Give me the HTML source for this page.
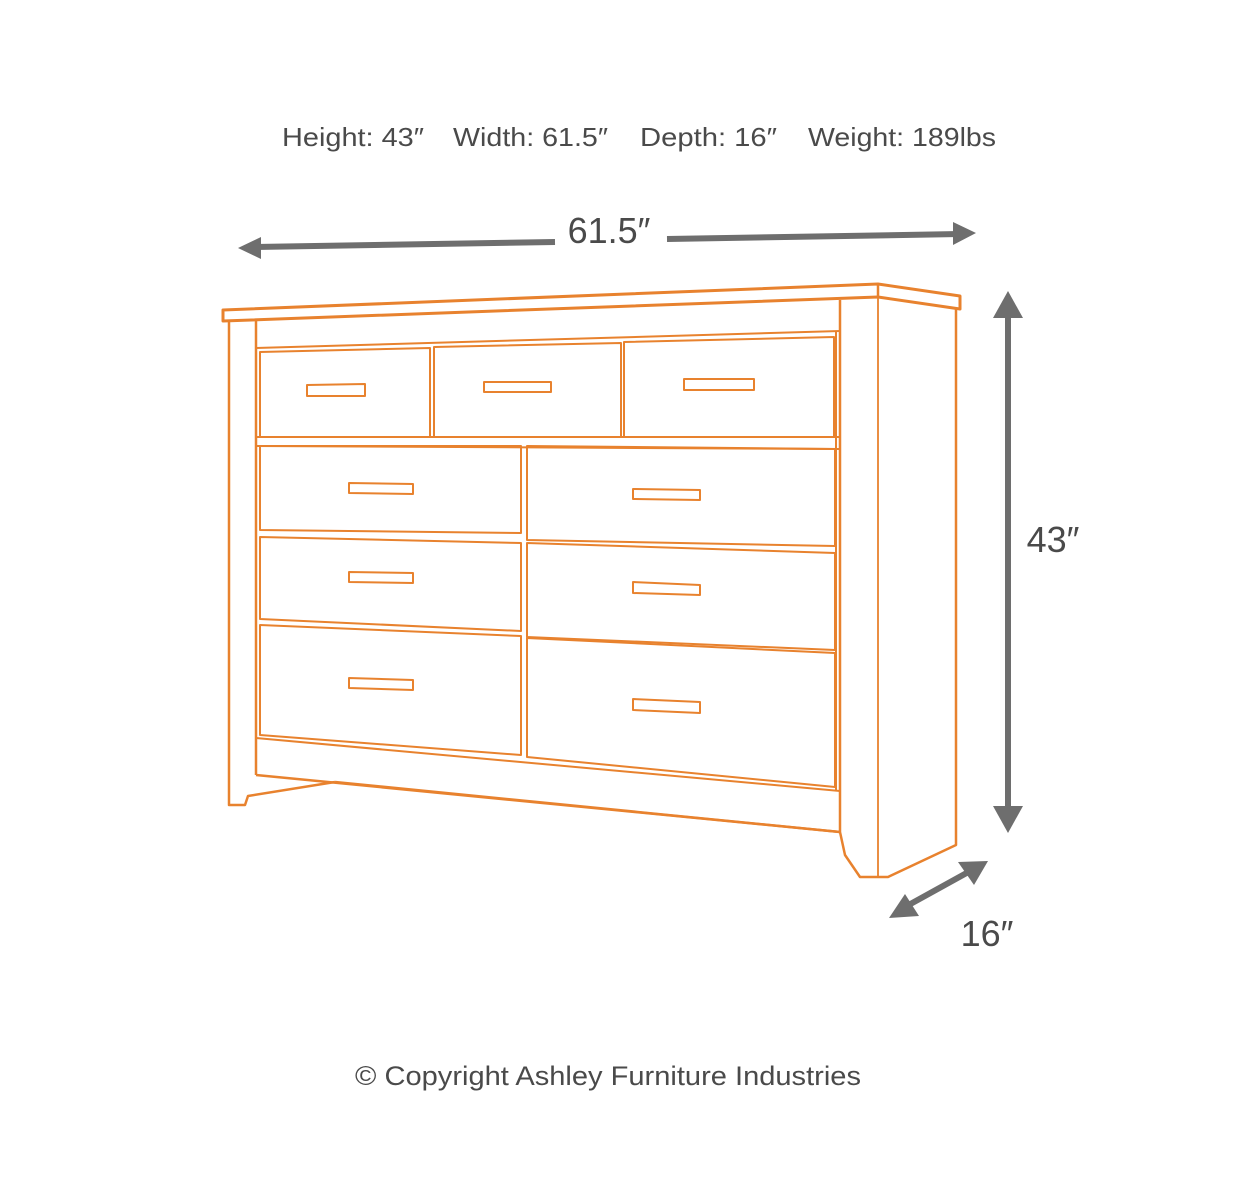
<!DOCTYPE html>
<html><head><meta charset="utf-8"><style>
html,body{margin:0;padding:0;background:#fff;width:1250px;height:1200px;overflow:hidden}
svg{display:block}
text{font-family:"Liberation Sans",sans-serif;fill:#4a4a4a}
</style></head><body>
<svg width="1250" height="1200" viewBox="0 0 1250 1200">
<text x="282" y="146" font-size="26" textLength="142" lengthAdjust="spacingAndGlyphs">Height: 43″</text>
<text x="453" y="146" font-size="26" textLength="155" lengthAdjust="spacingAndGlyphs">Width: 61.5″</text>
<text x="640" y="146" font-size="26" textLength="137" lengthAdjust="spacingAndGlyphs">Depth: 16″</text>
<text x="808" y="146" font-size="26" textLength="188" lengthAdjust="spacingAndGlyphs">Weight: 189lbs</text>
<text x="609" y="243" font-size="36" text-anchor="middle">61.5″</text>
<text x="1053" y="552" font-size="36" text-anchor="middle">43″</text>
<text x="987" y="946" font-size="36" text-anchor="middle">16″</text>
<text x="355" y="1085" font-size="27" textLength="506" lengthAdjust="spacingAndGlyphs">© Copyright Ashley Furniture Industries</text>
<g stroke="#6e6e6e" fill="#6e6e6e">
<line x1="255" y1="247" x2="555" y2="242" stroke-width="6"/>
<line x1="667" y1="239" x2="960" y2="234" stroke-width="6"/>
<polygon points="238,248 261,237 261,259" stroke="none"/>
<polygon points="976,233 953,222 953,245" stroke="none"/>
<line x1="1008" y1="310" x2="1008" y2="815" stroke-width="6"/>
<polygon points="1008,291 993,318 1023,318" stroke="none"/>
<polygon points="1008,833 993,806 1023,806" stroke="none"/>
<line x1="905" y1="907" x2="972" y2="870" stroke-width="6"/>
<polygon points="889,918 919,916 905,894" stroke="none"/>
<polygon points="988,861 974,885 958,862" stroke="none"/>
</g>
<g stroke="#e8822e" fill="none" stroke-width="2.5" stroke-linejoin="round">
<polygon points="223,310 878,284 960,296 960,309 878,297 223,321" stroke-width="3"/>
<line x1="878" y1="284" x2="878" y2="297"/>
<polyline points="229,321 229,805 245,805 248,796 335,782"/>
<line x1="256" y1="320" x2="256" y2="775"/>
<polyline points="256,775 840,832"/>
<polyline points="335,782 840,832"/>
<polyline points="840,300 840,832 845,855 860,877 888,877 956,845 956,309"/>
<line x1="878" y1="297" x2="878" y2="877" stroke-width="1.8"/>
<line x1="256" y1="348" x2="840" y2="331" stroke-width="2"/>
<line x1="256" y1="437" x2="840" y2="437" stroke-width="2"/>
<line x1="256" y1="446" x2="840" y2="449" stroke-width="2"/>
<line x1="256" y1="738" x2="840" y2="791" stroke-width="2"/>
<line x1="836" y1="331" x2="836" y2="791" stroke-width="2"/>
<g stroke-width="2">
<polygon points="260,352 430,348 430,437 260,437"/>
<polygon points="434,347 621,343 621,437 434,437"/>
<polygon points="624,342 834,337 834,437 624,437"/>
<polygon points="260,446 521,446 521,533 260,530"/>
<polygon points="527,446 835,449 835,546 527,540"/>
<polygon points="260,537 521,543 521,631 260,619"/>
<polygon points="527,543 835,553 835,650 527,637"/>
<polygon points="260,625 521,636 521,755 260,735"/>
<polygon points="527,638 835,653 835,787 527,757"/>
<polygon points="307,385 365,384 365,396 307,396"/>
<polygon points="484,382 551,382 551,392 484,392"/>
<polygon points="684,379 754,379 754,390 684,390"/>
<polygon points="349,483 413,484 413,494 349,493"/>
<polygon points="633,489 700,490 700,500 633,499"/>
<polygon points="349,572 413,573 413,583 349,582"/>
<polygon points="633,582 700,585 700,595 633,593"/>
<polygon points="349,678 413,680 413,690 349,688"/>
<polygon points="633,699 700,702 700,713 633,710"/>
</g>
</g>
</svg>
</body></html>
